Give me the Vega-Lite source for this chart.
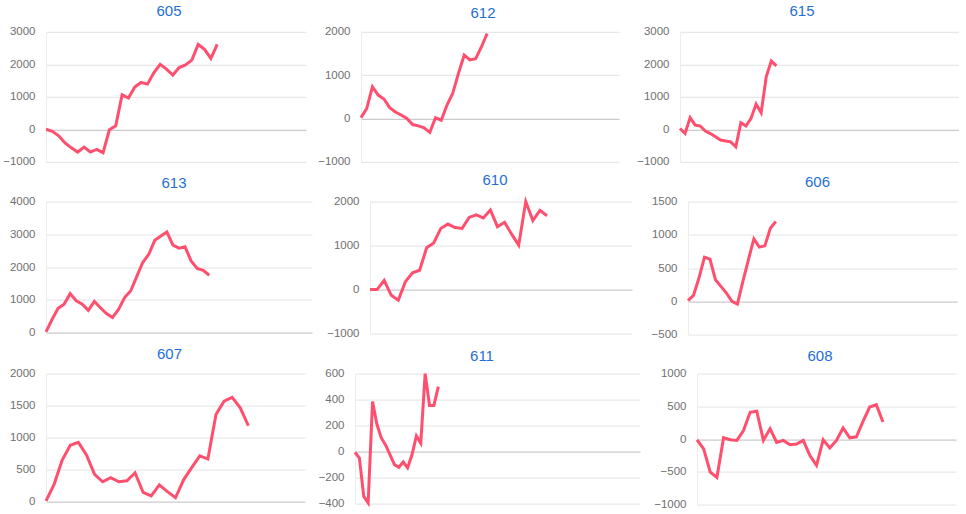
{
  "$schema": "https://vega.github.io/schema/vega-lite/v6.json",
  "background": "white",
  "padding": {"left": 0, "top": 3.8, "right": 0, "bottom": 0},
  "config": {
    "view": {"stroke": null},
    "title": {"font": "Liberation Sans", "fontSize": 15, "fontWeight": "normal", "color": "#1f6fd6", "anchor": "middle", "frame": "group"},
    "axis": {"format": "d", "labelFont": "Liberation Sans", "labelFontSize": 11.5, "labelColor": "#707070", "labelPadding": 11, "ticks": false, "domain": true, "domainColor": "#ececec", "title": null},
    "line": {"color": "#ff4f6e", "strokeWidth": 3}
  },
  "datasets": {
    "d": [
      {"p":"605","i":0,"v":0},{"p":"605","i":1,"v":-60},{"p":"605","i":2,"v":-200},{"p":"605","i":3,"v":-420},{"p":"605","i":4,"v":-570},{"p":"605","i":5,"v":-700},{"p":"605","i":6,"v":-550},{"p":"605","i":7,"v":-700},{"p":"605","i":8,"v":-620},{"p":"605","i":9,"v":-720},{"p":"605","i":10,"v":-10},{"p":"605","i":11,"v":110},{"p":"605","i":12,"v":1060},{"p":"605","i":13,"v":960},{"p":"605","i":14,"v":1300},{"p":"605","i":15,"v":1440},{"p":"605","i":16,"v":1390},{"p":"605","i":17,"v":1740},{"p":"605","i":18,"v":2000},{"p":"605","i":19,"v":1850},{"p":"605","i":20,"v":1670},{"p":"605","i":21,"v":1900},{"p":"605","i":22,"v":1980},{"p":"605","i":23,"v":2130},{"p":"605","i":24,"v":2610},{"p":"605","i":25,"v":2460},{"p":"605","i":26,"v":2180},{"p":"605","i":27,"v":2610},
      {"p":"612","i":0,"v":20},{"p":"612","i":1,"v":230},{"p":"612","i":2,"v":730},{"p":"612","i":3,"v":540},{"p":"612","i":4,"v":450},{"p":"612","i":5,"v":250},{"p":"612","i":6,"v":150},{"p":"612","i":7,"v":80},{"p":"612","i":8,"v":0},{"p":"612","i":9,"v":-140},{"p":"612","i":10,"v":-170},{"p":"612","i":11,"v":-215},{"p":"612","i":12,"v":-320},{"p":"612","i":13,"v":15},{"p":"612","i":14,"v":-40},{"p":"612","i":15,"v":310},{"p":"612","i":16,"v":580},{"p":"612","i":17,"v":1040},{"p":"612","i":18,"v":1460},{"p":"612","i":19,"v":1350},{"p":"612","i":20,"v":1380},{"p":"612","i":21,"v":1650},{"p":"612","i":22,"v":1960},
      {"p":"615","i":0,"v":25},{"p":"615","i":1,"v":-130},{"p":"615","i":2,"v":360},{"p":"615","i":3,"v":130},{"p":"615","i":4,"v":100},{"p":"615","i":5,"v":-55},{"p":"615","i":6,"v":-130},{"p":"615","i":7,"v":-230},{"p":"615","i":8,"v":-330},{"p":"615","i":9,"v":-360},{"p":"615","i":10,"v":-385},{"p":"615","i":11,"v":-540},{"p":"615","i":12,"v":200},{"p":"615","i":13,"v":100},{"p":"615","i":14,"v":335},{"p":"615","i":15,"v":775},{"p":"615","i":16,"v":510},{"p":"615","i":17,"v":1615},{"p":"615","i":18,"v":2100},{"p":"615","i":19,"v":1950},
      {"p":"613","i":0,"v":20},{"p":"613","i":1,"v":400},{"p":"613","i":2,"v":740},{"p":"613","i":3,"v":870},{"p":"613","i":4,"v":1190},{"p":"613","i":5,"v":970},{"p":"613","i":6,"v":870},{"p":"613","i":7,"v":680},{"p":"613","i":8,"v":950},{"p":"613","i":9,"v":760},{"p":"613","i":10,"v":580},{"p":"613","i":11,"v":460},{"p":"613","i":12,"v":710},{"p":"613","i":13,"v":1070},{"p":"613","i":14,"v":1270},{"p":"613","i":15,"v":1710},{"p":"613","i":16,"v":2140},{"p":"613","i":17,"v":2390},{"p":"613","i":18,"v":2820},{"p":"613","i":19,"v":2950},{"p":"613","i":20,"v":3070},{"p":"613","i":21,"v":2670},{"p":"613","i":22,"v":2580},{"p":"613","i":23,"v":2620},{"p":"613","i":24,"v":2190},{"p":"613","i":25,"v":1960},{"p":"613","i":26,"v":1900},{"p":"613","i":27,"v":1750},
      {"p":"610","i":0,"v":0},{"p":"610","i":1,"v":0},{"p":"610","i":2,"v":210},{"p":"610","i":3,"v":-130},{"p":"610","i":4,"v":-240},{"p":"610","i":5,"v":180},{"p":"610","i":6,"v":380},{"p":"610","i":7,"v":440},{"p":"610","i":8,"v":950},{"p":"610","i":9,"v":1060},{"p":"610","i":10,"v":1390},{"p":"610","i":11,"v":1490},{"p":"610","i":12,"v":1410},{"p":"610","i":13,"v":1390},{"p":"610","i":14,"v":1640},{"p":"610","i":15,"v":1700},{"p":"610","i":16,"v":1630},{"p":"610","i":17,"v":1810},{"p":"610","i":18,"v":1430},{"p":"610","i":19,"v":1530},{"p":"610","i":20,"v":1260},{"p":"610","i":21,"v":1010},{"p":"610","i":22,"v":2000},{"p":"610","i":23,"v":1570},{"p":"610","i":24,"v":1800},{"p":"610","i":25,"v":1680},
      {"p":"606","i":0,"v":10},{"p":"606","i":1,"v":90},{"p":"606","i":2,"v":350},{"p":"606","i":3,"v":665},{"p":"606","i":4,"v":635},{"p":"606","i":5,"v":325},{"p":"606","i":6,"v":225},{"p":"606","i":7,"v":125},{"p":"606","i":8,"v":0},{"p":"606","i":9,"v":-40},{"p":"606","i":10,"v":300},{"p":"606","i":11,"v":625},{"p":"606","i":12,"v":940},{"p":"606","i":13,"v":815},{"p":"606","i":14,"v":835},{"p":"606","i":15,"v":1100},{"p":"606","i":16,"v":1200},
      {"p":"607","i":0,"v":10},{"p":"607","i":1,"v":270},{"p":"607","i":2,"v":650},{"p":"607","i":3,"v":880},{"p":"607","i":4,"v":925},{"p":"607","i":5,"v":730},{"p":"607","i":6,"v":425},{"p":"607","i":7,"v":310},{"p":"607","i":8,"v":375},{"p":"607","i":9,"v":310},{"p":"607","i":10,"v":325},{"p":"607","i":11,"v":450},{"p":"607","i":12,"v":145},{"p":"607","i":13,"v":90},{"p":"607","i":14,"v":260},{"p":"607","i":15,"v":155},{"p":"607","i":16,"v":60},{"p":"607","i":17,"v":340},{"p":"607","i":18,"v":530},{"p":"607","i":19,"v":715},{"p":"607","i":20,"v":665},{"p":"607","i":21,"v":1360},{"p":"607","i":22,"v":1570},{"p":"607","i":23,"v":1630},{"p":"607","i":24,"v":1465},{"p":"607","i":25,"v":1185},
      {"p":"611","i":0,"v":-5},{"p":"611","i":1,"v":-50},{"p":"611","i":2,"v":-345},{"p":"611","i":3,"v":-395},{"p":"611","i":4,"v":385},{"p":"611","i":5,"v":210},{"p":"611","i":6,"v":105},{"p":"611","i":7,"v":50},{"p":"611","i":8,"v":-25},{"p":"611","i":9,"v":-100},{"p":"611","i":10,"v":-120},{"p":"611","i":11,"v":-80},{"p":"611","i":12,"v":-125},{"p":"611","i":13,"v":-25},{"p":"611","i":14,"v":120},{"p":"611","i":15,"v":65},{"p":"611","i":16,"v":600},{"p":"611","i":17,"v":355},{"p":"611","i":18,"v":355},{"p":"611","i":19,"v":500},
      {"p":"608","i":0,"v":-10},{"p":"608","i":1,"v":-150},{"p":"608","i":2,"v":-505},{"p":"608","i":3,"v":-585},{"p":"608","i":4,"v":20},{"p":"608","i":5,"v":-10},{"p":"608","i":6,"v":-20},{"p":"608","i":7,"v":130},{"p":"608","i":8,"v":410},{"p":"608","i":9,"v":425},{"p":"608","i":10,"v":-20},{"p":"608","i":11,"v":160},{"p":"608","i":12,"v":-50},{"p":"608","i":13,"v":-20},{"p":"608","i":14,"v":-85},{"p":"608","i":15,"v":-75},{"p":"608","i":16,"v":-20},{"p":"608","i":17,"v":-250},{"p":"608","i":18,"v":-400},{"p":"608","i":19,"v":-10},{"p":"608","i":20,"v":-135},{"p":"608","i":21,"v":-20},{"p":"608","i":22,"v":170},{"p":"608","i":23,"v":20},{"p":"608","i":24,"v":35},{"p":"608","i":25,"v":270},{"p":"608","i":26,"v":490},{"p":"608","i":27,"v":525},{"p":"608","i":28,"v":260}
    ]
  },
  "data": {"name": "d"},
  "spacing": 4.8,
  "vconcat": [
    {"spacing": 0, "hconcat": [
      {"title": {"text": "605", "dx": -7, "offset": 6.6}, "width": 260, "height": 130,
       "transform": [{"filter": "datum.p === '605'"}], "mark": "line",
       "encoding": {"x": {"field": "i", "type": "quantitative", "scale": {"domain": [0, 41], "nice": false, "zero": false}, "axis": null},
                    "y": {"field": "v", "type": "quantitative", "scale": {"domain": [-1000, 3000], "nice": false}, "axis": {"values": [-1000, 0, 1000, 2000, 3000], "minExtent": 45, "maxExtent": 45, "gridColor": {"condition": {"test": "datum.value === 0", "value": "#bdbdbd"}, "value": "#e3e3e3"}}}}},
      {"title": {"text": "612", "dx": -7, "offset": 4.9}, "width": 258, "height": 130,
       "transform": [{"filter": "datum.p === '612'"}], "mark": "line",
       "encoding": {"x": {"field": "i", "type": "quantitative", "scale": {"domain": [0, 45], "nice": false, "zero": false}, "axis": null},
                    "y": {"field": "v", "type": "quantitative", "scale": {"domain": [-1000, 2000], "nice": false}, "axis": {"values": [-1000, 0, 1000, 2000], "minExtent": 55, "maxExtent": 55, "gridColor": {"condition": {"test": "datum.value === 0", "value": "#bdbdbd"}, "value": "#e3e3e3"}}}}},
      {"title": {"text": "615", "dx": -17.5, "offset": 6.6}, "width": 279, "height": 130,
       "transform": [{"filter": "datum.p === '615'"}], "mark": "line",
       "encoding": {"x": {"field": "i", "type": "quantitative", "scale": {"domain": [0, 55], "nice": false, "zero": false}, "axis": null},
                    "y": {"field": "v", "type": "quantitative", "scale": {"domain": [-1000, 3000], "nice": false}, "axis": {"values": [-1000, 0, 1000, 2000, 3000], "minExtent": 61, "maxExtent": 61, "gridColor": {"condition": {"test": "datum.value === 0", "value": "#bdbdbd"}, "value": "#e3e3e3"}}}}}
    ]},
    {"spacing": 6, "vconcat": [
      {"spacing": 0, "hconcat": [
        {"title": {"text": "613", "dx": -5, "offset": 4.55}, "width": 266, "height": 131,
         "transform": [{"filter": "datum.p === '613'"}], "mark": "line",
         "encoding": {"x": {"field": "i", "type": "quantitative", "scale": {"domain": [0, 44], "nice": false, "zero": false}, "axis": null},
                      "y": {"field": "v", "type": "quantitative", "scale": {"domain": [0, 4000], "nice": false}, "axis": {"values": [0, 1000, 2000, 3000, 4000], "minExtent": 46, "maxExtent": 46, "gridColor": {"condition": {"test": "datum.value === 0", "value": "#bdbdbd"}, "value": "#e3e3e3"}}}}},
        {"title": {"text": "610", "dx": -6, "offset": 7.25}, "width": 262, "height": 132,
         "transform": [{"filter": "datum.p === '610'"}], "mark": "line",
         "encoding": {"x": {"field": "i", "type": "quantitative", "scale": {"domain": [0, 37], "nice": false, "zero": false}, "axis": null},
                      "y": {"field": "v", "type": "quantitative", "scale": {"domain": [-1000, 2000], "nice": false}, "axis": {"values": [-1000, 0, 1000, 2000], "minExtent": 58, "maxExtent": 58, "gridColor": {"condition": {"test": "datum.value === 0", "value": "#bdbdbd"}, "value": "#e3e3e3"}}}}},
        {"title": {"text": "606", "dx": -5, "offset": 5.55}, "width": 269, "height": 133,
         "transform": [{"filter": "datum.p === '606'"}], "mark": "line",
         "encoding": {"x": {"field": "i", "type": "quantitative", "scale": {"domain": [0, 49], "nice": false, "zero": false}, "axis": null},
                      "y": {"field": "v", "type": "quantitative", "scale": {"domain": [-500, 1500], "nice": false}, "axis": {"values": [-500, 0, 500, 1000, 1500], "minExtent": 56, "maxExtent": 56, "gridColor": {"condition": {"test": "datum.value === 0", "value": "#bdbdbd"}, "value": "#e3e3e3"}}}}}
      ]},
      {"spacing": 0, "hconcat": [
        {"title": {"text": "607", "dx": -6, "offset": 5.8}, "width": 259, "height": 128,
         "transform": [{"filter": "datum.p === '607'"}], "mark": "line",
         "encoding": {"x": {"field": "i", "type": "quantitative", "scale": {"domain": [0, 32], "nice": false, "zero": false}, "axis": null},
                      "y": {"field": "v", "type": "quantitative", "scale": {"domain": [0, 2000], "nice": false}, "axis": {"values": [0, 500, 1000, 1500, 2000], "minExtent": 43, "maxExtent": 43, "gridColor": {"condition": {"test": "datum.value === 0", "value": "#bdbdbd"}, "value": "#e3e3e3"}}}}},
        {"title": {"text": "611", "dx": -15.5, "offset": 3.1}, "width": 285, "height": 130,
         "transform": [{"filter": "datum.p === '611'"}], "mark": "line",
         "encoding": {"x": {"field": "i", "type": "quantitative", "scale": {"domain": [0, 65], "nice": false, "zero": false}, "axis": null},
                      "y": {"field": "v", "type": "quantitative", "scale": {"domain": [-400, 600], "nice": false}, "axis": {"values": [-400, -200, 0, 200, 400, 600], "minExtent": 50, "maxExtent": 50, "gridColor": {"condition": {"test": "datum.value === 0", "value": "#bdbdbd"}, "value": "#e3e3e3"}}}}},
        {"title": {"text": "608", "dx": -6.5, "offset": 3.1}, "width": 259, "height": 131,
         "transform": [{"filter": "datum.p === '608'"}], "mark": "line",
         "encoding": {"x": {"field": "i", "type": "quantitative", "scale": {"domain": [0, 39], "nice": false, "zero": false}, "axis": null},
                      "y": {"field": "v", "type": "quantitative", "scale": {"domain": [-1000, 1000], "nice": false}, "axis": {"values": [-1000, -500, 0, 500, 1000], "minExtent": 57, "maxExtent": 57, "gridColor": {"condition": {"test": "datum.value === 0", "value": "#bdbdbd"}, "value": "#e3e3e3"}}}}}
      ]}
    ]}
  ]
}
